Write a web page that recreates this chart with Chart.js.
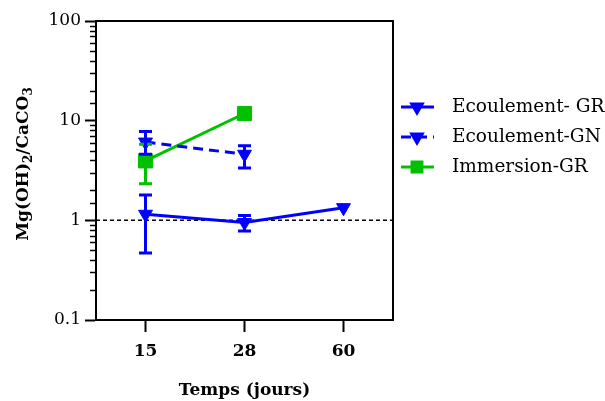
<!DOCTYPE html>
<html>
<head>
<meta charset="utf-8">
<script src="https://cdn.jsdelivr.net/npm/chart.js@4.4.0/dist/chart.umd.min.js"></script>
<style>
  html, body { margin: 0; padding: 0; background: #fff; }
</style>
</head>
<body>
<canvas id="mgChart" width="605" height="401"></canvas>
<script>
// x categories (days) and y decade labels
const days = ["15", "28", "60"];
const yDecades = [0.1, 1, 10, 100];
const refLine = 1;

// Ecoulement- GR
const ecoulGR = [1.15, 0.95, 1.34];
const ecoulGRLow = [0.47, 0.78, null];
const ecoulGRHigh = [1.8, 1.12, null];

// Ecoulement-GN
const ecoulGN = [6.1, 4.6, null];
const ecoulGNLow = [4.6, 3.35, null];
const ecoulGNHigh = [7.8, 5.6, null];

// Immersion-GR
const immerGR = [3.95, 11.8, null];
const immerGRLow = [2.33, null, null];
const immerGRHigh = [5.8, null, null];

const seriesNames = ["Ecoulement- GR", "Ecoulement-GN", "Immersion-GR"];

const BLUE = "#0000ff";
const GREEN = "#00c000";
const SERIF = "'DejaVu Serif', 'Liberation Serif', serif";

function isDecade(v) {
  const l = Math.log10(v);
  return Math.abs(l - Math.round(l)) < 1e-6;
}

const errors = [
  { low: ecoulGRLow, high: ecoulGRHigh },
  { low: ecoulGNLow, high: ecoulGNHigh },
  { low: immerGRLow, high: immerGRHigh },
];

// frame, minor ticks, reference line
const framePlugin = {
  id: "frame",
  beforeDatasetsDraw(chart) {
    const { ctx, chartArea: a, scales } = chart;
    const y = scales.y.getPixelForValue(refLine);
    ctx.save();
    ctx.strokeStyle = "#000";
    ctx.lineWidth = 1.5;
    ctx.setLineDash([4, 3]);
    ctx.beginPath();
    ctx.moveTo(a.left, y);
    ctx.lineTo(a.right, y);
    ctx.stroke();
    ctx.restore();
  },
  afterDraw(chart) {
    const { ctx, chartArea: a, scales } = chart;
    ctx.save();
    ctx.strokeStyle = "#000";
    ctx.lineWidth = 2;
    ctx.beginPath();
    ctx.moveTo(a.left, a.top);
    ctx.lineTo(a.right, a.top);
    ctx.lineTo(a.right, a.bottom);
    ctx.stroke();
    // minor log ticks
    for (const t of scales.y.ticks) {
      if (isDecade(t.value)) continue;
      const py = Math.round(scales.y.getPixelForValue(t.value)) + 0.5;
      ctx.lineWidth = 1.5;
      ctx.beginPath();
      ctx.moveTo(a.left - 6, py);
      ctx.lineTo(a.left, py);
      ctx.stroke();
    }
    ctx.restore();
  },
};

// error bars
const errorPlugin = {
  id: "errorBars",
  afterDatasetsDraw(chart) {
    const { ctx, scales } = chart;
    ctx.save();
    ctx.lineWidth = 3;
    for (let d = errors.length - 1; d >= 0; d--) {
      const color = chart.data.datasets[d].borderColor;
      ctx.strokeStyle = color;
      const e = errors[d];
      for (let i = 0; i < days.length; i++) {
        if (e.low[i] == null || e.high[i] == null) continue;
        const x = scales.x.getPixelForValue(i);
        const yl = scales.y.getPixelForValue(e.low[i]);
        const yh = scales.y.getPixelForValue(e.high[i]);
        ctx.beginPath();
        ctx.moveTo(x, yl);
        ctx.lineTo(x, yh);
        ctx.moveTo(x - 6.5, yl);
        ctx.lineTo(x + 6.5, yl);
        ctx.moveTo(x - 6.5, yh);
        ctx.lineTo(x + 6.5, yh);
        ctx.stroke();
      }
    }
    ctx.restore();
  },
};

// axis titles and legend
const textPlugin = {
  id: "texts",
  afterDraw(chart) {
    const { ctx, chartArea: a } = chart;
    ctx.save();
    ctx.fillStyle = "#000";

    // x title
    ctx.font = "bold 17px " + SERIF;
    ctx.textAlign = "center";
    ctx.textBaseline = "middle";
    ctx.fillText("Temps (jours)", (a.left + a.right) / 2, 391);

    // y title with subscripts
    const parts = [
      ["Mg(OH)", false], ["2", true], ["/CaCO", false], ["3", true],
    ];
    const big = "bold 17px " + SERIF;
    const small = "bold 12px " + SERIF;
    let total = 0;
    for (const [s, sub] of parts) {
      ctx.font = sub ? small : big;
      total += ctx.measureText(s).width;
    }
    ctx.translate(24, 164);
    ctx.rotate(-Math.PI / 2);
    ctx.textAlign = "left";
    ctx.textBaseline = "middle";
    let x = -total / 2;
    for (const [s, sub] of parts) {
      ctx.font = sub ? small : big;
      ctx.fillText(s, x, sub ? 5 : 0);
      x += ctx.measureText(s).width;
    }
    ctx.setTransform(1, 0, 0, 1, 0, 0);

    // legend
    const rows = [107, 137, 167];
    chart.data.datasets.forEach((ds, i) => {
      const y = rows[i];
      ctx.strokeStyle = ds.borderColor;
      ctx.lineWidth = 3;
      ctx.setLineDash(ds.borderDash || []);
      ctx.beginPath();
      ctx.moveTo(401, y);
      ctx.lineTo(434, y);
      ctx.stroke();
      ctx.setLineDash([]);
      ctx.fillStyle = ds.backgroundColor;
      Chart.helpers.drawPoint(ctx, {
        pointStyle: ds.pointStyle,
        rotation: ds.pointRotation || 0,
        radius: ds.pointStyle === "rect" ? 7 : 6,
        borderWidth: 1,
      }, 417, y);
      ctx.fillStyle = "#000";
      ctx.font = "18.5px " + SERIF;
      ctx.textAlign = "left";
      ctx.textBaseline = "middle";
      ctx.fillText(seriesNames[i], 452, y);
    });
    ctx.restore();
  },
};

const ctx = document.getElementById("mgChart").getContext("2d");
const mgChart = new Chart(ctx, {
  type: "line",
  data: {
    labels: days,
    datasets: [
      {
        label: seriesNames[0],
        data: ecoulGR,
        borderColor: BLUE,
        backgroundColor: BLUE,
        borderWidth: 3,
        pointStyle: "triangle",
        pointRotation: 180,
        pointRadius: 8,
        pointBorderWidth: 1,
      },
      {
        label: seriesNames[1],
        data: ecoulGN,
        borderColor: BLUE,
        backgroundColor: BLUE,
        borderWidth: 3,
        borderDash: [10, 6],
        pointStyle: "triangle",
        pointRotation: 180,
        pointRadius: 8,
        pointBorderWidth: 1,
      },
      {
        label: seriesNames[2],
        data: immerGR,
        borderColor: GREEN,
        backgroundColor: GREEN,
        borderWidth: 3,
        pointStyle: "rect",
        pointRadius: 10,
        pointBorderWidth: 1,
      },
    ],
  },
  options: {
    responsive: false,
    animation: false,
    devicePixelRatio: 1,
    layout: { padding: { top: 21, right: 212, left: 0, bottom: 0 } },
    plugins: {
      legend: { display: false },
      tooltip: { enabled: false },
    },
    scales: {
      x: {
        type: "category",
        offset: true,
        afterFit: (s) => { s.height = 81; },
        border: { color: "#000", width: 2 },
        grid: {
          drawOnChartArea: false,
          tickLength: 12,
          tickWidth: 2,
          tickColor: "#000",
          offset: false,
        },
        ticks: {
          color: "#000",
          padding: 9,
          font: { family: SERIF, size: 17, weight: "bold" },
        },
      },
      y: {
        type: "logarithmic",
        min: 0.1,
        max: 100,
        afterFit: (s) => { s.width = 96; },
        border: { color: "#000", width: 2 },
        grid: {
          drawOnChartArea: false,
          tickLength: 11,
          tickWidth: 2,
          tickColor: (c) => (c.tick && isDecade(c.tick.value) ? "#000" : "rgba(0,0,0,0)"),
        },
        ticks: {
          autoSkip: false,
          color: "#000",
          padding: 4,
          font: { family: SERIF, size: 17 },
          callback: (v) => (yDecades.some((d) => Math.abs(d - v) < 1e-9) ? String(v) : ""),
        },
      },
    },
  },
  plugins: [framePlugin, errorPlugin, textPlugin],
});
</script>
</body>
</html>
